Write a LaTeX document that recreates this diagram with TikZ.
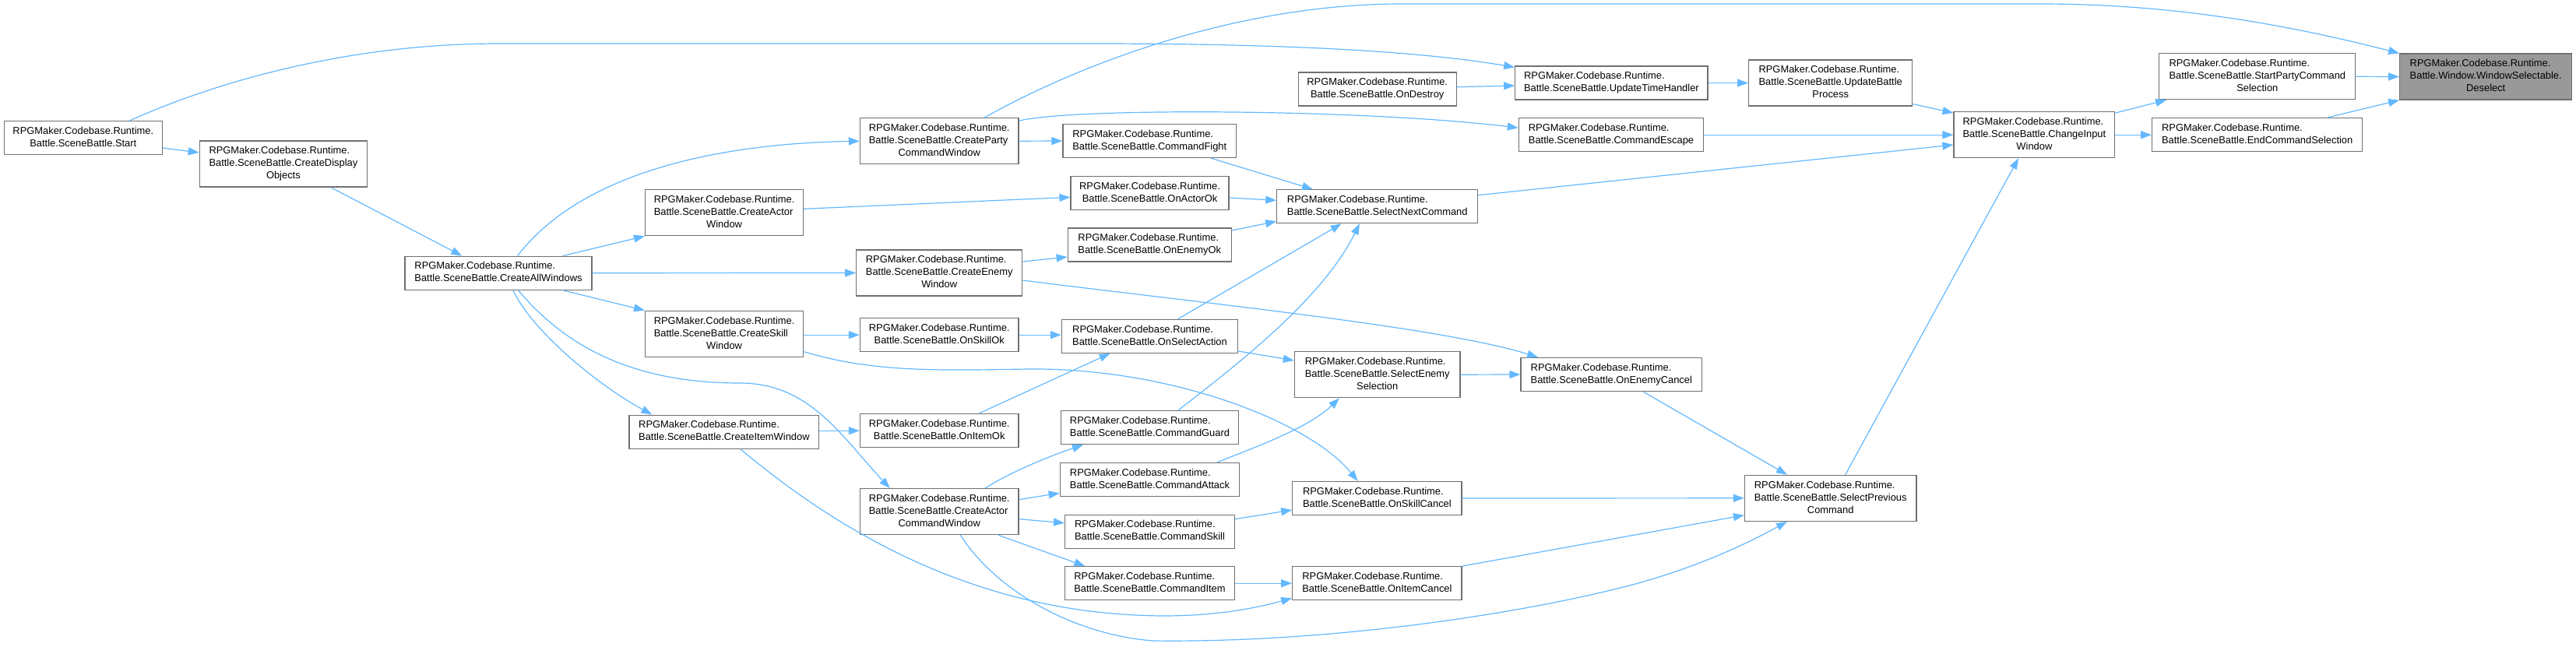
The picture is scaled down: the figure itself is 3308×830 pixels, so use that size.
\documentclass[tikz,border=0pt]{standalone}
\usepackage{fontspec}
\setmainfont{Liberation Sans}
\usetikzlibrary{arrows.meta}
\definecolor{edgec}{HTML}{63B8FF}
\definecolor{boxc}{HTML}{707070}
\definecolor{hilite}{HTML}{999999}
\newcommand{\nodetext}[2]{\begin{tabular}{@{}l@{}}#1\\\multicolumn{1}{@{}c@{}}{#2}\end{tabular}}
\tikzset{
 fn/.style={draw=boxc, line width=1.2pt, fill=white, inner sep=0pt, font=\fontsize{12.9pt}{16pt}\selectfont, minimum height=43pt},
 fn3/.style={fn, minimum height=59pt},
 hl/.style={fill=hilite},
 edge/.style={draw=edgec, line width=1.2pt, -{Triangle[length=14pt,width=10pt]}},
}
\begin{document}
\begin{tikzpicture}[x=1pt,y=-1pt]
\useasboundingbox (0,0) rectangle (3308,830);
% nodes
\node[fn, minimum width=203pt] (start) at (106.8,177.3) {\nodetext{RPGMaker.Codebase.Runtime.}{Battle.SceneBattle.Start}};
\node[fn3, minimum width=215.2pt] (cdo) at (363.9,210.5) {\nodetext{RPGMaker.Codebase.Runtime.\\Battle.SceneBattle.CreateDisplay}{Objects}};
\node[fn, minimum width=240pt] (caw) at (640,350.7) {\nodetext{RPGMaker.Codebase.Runtime.}{Battle.SceneBattle.CreateAllWindows}};
\node[fn3, minimum width=203.6pt] (cpw) at (1206.2,181.2) {\nodetext{RPGMaker.Codebase.Runtime.\\Battle.SceneBattle.CreateParty}{CommandWindow}};
\node[fn, minimum width=222.5pt] (cfight) at (1476.3,181) {\nodetext{RPGMaker.Codebase.Runtime.}{Battle.SceneBattle.CommandFight}};
\node[fn3, minimum width=203pt] (cactw) at (930.1,273.2) {\nodetext{RPGMaker.Codebase.Runtime.\\Battle.SceneBattle.CreateActor}{Window}};
\node[fn, minimum width=203pt] (onactorok) at (1476.5,247.8) {\nodetext{RPGMaker.Codebase.Runtime.}{Battle.SceneBattle.OnActorOk}};
\node[fn, minimum width=210pt] (onenemyok) at (1476.2,314.5) {\nodetext{RPGMaker.Codebase.Runtime.}{Battle.SceneBattle.OnEnemyOk}};
\node[fn3, minimum width=213pt] (cew) at (1206.2,350.5) {\nodetext{RPGMaker.Codebase.Runtime.\\Battle.SceneBattle.CreateEnemy}{Window}};
\node[fn3, minimum width=203pt] (csw) at (930.1,428.8) {\nodetext{RPGMaker.Codebase.Runtime.\\Battle.SceneBattle.CreateSkill}{Window}};
\node[fn, minimum width=203.6pt] (onskillok) at (1206.2,430.2) {\nodetext{RPGMaker.Codebase.Runtime.}{Battle.SceneBattle.OnSkillOk}};
\node[fn, minimum width=226.2pt] (onselectaction) at (1476.5,431.8) {\nodetext{RPGMaker.Codebase.Runtime.}{Battle.SceneBattle.OnSelectAction}};
\node[fn, minimum width=243.7pt] (ciw) at (929.9,554.7) {\nodetext{RPGMaker.Codebase.Runtime.}{Battle.SceneBattle.CreateItemWindow}};
\node[fn, minimum width=203.6pt] (onitemok) at (1206.2,553.2) {\nodetext{RPGMaker.Codebase.Runtime.}{Battle.SceneBattle.OnItemOk}};
\node[fn, minimum width=228.4pt] (cguard) at (1476.5,549.2) {\nodetext{RPGMaker.Codebase.Runtime.}{Battle.SceneBattle.CommandGuard}};
\node[fn, minimum width=230.5pt] (cattack) at (1476.5,616) {\nodetext{RPGMaker.Codebase.Runtime.}{Battle.SceneBattle.CommandAttack}};
\node[fn3, minimum width=203.6pt] (cacw) at (1206.2,657.2) {\nodetext{RPGMaker.Codebase.Runtime.\\Battle.SceneBattle.CreateActor}{CommandWindow}};
\node[fn, minimum width=217.8pt] (cskill) at (1476.5,682.7) {\nodetext{RPGMaker.Codebase.Runtime.}{Battle.SceneBattle.CommandSkill}};
\node[fn, minimum width=217.8pt] (citem) at (1476.5,749.2) {\nodetext{RPGMaker.Codebase.Runtime.}{Battle.SceneBattle.CommandItem}};
\node[fn, minimum width=203pt] (ondestroy) at (1768.7,114.5) {\nodetext{RPGMaker.Codebase.Runtime.}{Battle.SceneBattle.OnDestroy}};
\node[fn, minimum width=257.9pt] (snc) at (1768.75,265.2) {\nodetext{RPGMaker.Codebase.Runtime.}{Battle.SceneBattle.SelectNextCommand}};
\node[fn3, minimum width=212.6pt] (ses) at (1768.7,481.2) {\nodetext{RPGMaker.Codebase.Runtime.\\Battle.SceneBattle.SelectEnemy}{Selection}};
\node[fn, minimum width=217.2pt] (onskillcancel) at (1768.4,640) {\nodetext{RPGMaker.Codebase.Runtime.}{Battle.SceneBattle.OnSkillCancel}};
\node[fn, minimum width=217.2pt] (onitemcancel) at (1768.4,749.2) {\nodetext{RPGMaker.Codebase.Runtime.}{Battle.SceneBattle.OnItemCancel}};
\node[fn, minimum width=247.3pt] (uth) at (2069.4,106.5) {\nodetext{RPGMaker.Codebase.Runtime.}{Battle.SceneBattle.UpdateTimeHandler}};
\node[fn, minimum width=237.3pt] (cescape) at (2069,173.2) {\nodetext{RPGMaker.Codebase.Runtime.}{Battle.SceneBattle.CommandEscape}};
\node[fn, minimum width=232.6pt] (onenemycancel) at (2069.3,481) {\nodetext{RPGMaker.Codebase.Runtime.}{Battle.SceneBattle.OnEnemyCancel}};
\node[fn3, minimum width=210pt] (ubp) at (2350.7,106.5) {\nodetext{RPGMaker.Codebase.Runtime.\\Battle.SceneBattle.UpdateBattle}{Process}};
\node[fn3, minimum width=220.5pt] (spc) at (2350.7,639.8) {\nodetext{RPGMaker.Codebase.Runtime.\\Battle.SceneBattle.SelectPrevious}{Command}};
\node[fn3, minimum width=206.7pt] (chg) at (2612.4,173.2) {\nodetext{RPGMaker.Codebase.Runtime.\\Battle.SceneBattle.ChangeInput}{Window}};
\node[fn3, minimum width=252.1pt] (spcs) at (2898.8,98.3) {\nodetext{RPGMaker.Codebase.Runtime.\\Battle.SceneBattle.StartPartyCommand}{Selection}};
\node[fn, minimum width=270pt] (ecs) at (2898.7,173.2) {\nodetext{RPGMaker.Codebase.Runtime.}{Battle.SceneBattle.EndCommandSelection}};
\node[fn3, hl, minimum width=221pt] (desel) at (3192.2,98.5) {\nodetext{RPGMaker.Codebase.Runtime.\\Battle.Window.WindowSelectable.}{Deselect}};
% edges
\draw[edge] (spcs.east) -- (desel.west);
\draw[edge] ([xshift=89.6pt]ecs.north) -- (desel.south west);
\draw[edge] ([xshift=57.8pt]cpw.north) .. controls (1400,75) and (1600,5) .. (1800,5) -- (2620,5) .. controls (2800,5) and (2950,35) .. (desel.north west);
\draw[edge] ([yshift=-2pt]chg.north east) -- ([xshift=10pt]spcs.south west);
\draw[edge] (chg.east) -- (ecs.west);
\draw[edge] ([yshift=3pt]ubp.south east) -- ([yshift=-2pt]chg.north west);
\draw[edge] (cescape.east) -- (chg.west);
\draw[edge] ([yshift=14.5pt]snc.east) -- ([yshift=-12.8pt]chg.west);
\draw[edge] ([xshift=19pt]spc.north) -- ([xshift=-20.4pt]chg.south);
\draw[edge] (uth.east) -- (ubp.west);
\draw[edge] ([yshift=2.8pt]ondestroy.east) -- ([yshift=-3.5pt]uth.west);
\draw[edge] ([xshift=59.2pt]start.north) .. controls (300,95) and (470,56) .. (640,56) -- (1400,56) .. controls (1600,56) and (1800,62) .. ([yshift=-2pt]uth.north west);
\draw[edge] ([yshift=-4pt]cpw.north east) .. controls (1380,138) and (1750,140) .. ([yshift=9pt]cescape.west);
\draw[edge] (cpw.east) -- (cfight.west);
\draw[edge] ([xshift=78.5pt]cfight.south) -- ([xshift=-82.75pt]snc.north);
\draw[edge] ([yshift=-6.2pt]onactorok.east) -- ([yshift=7.9pt]snc.west);
\draw[edge] ([yshift=18.5pt]onenemyok.east) -- ([yshift=3pt]snc.south west);
\draw[edge] ([xshift=36.2pt]onselectaction.north) -- ([xshift=-46pt]snc.south);
\draw[edge] ([xshift=36.2pt]cguard.north) .. controls (1600,460) and (1700,380) .. ([xshift=-22.8pt]snc.south);
\draw[edge] ([yshift=4.9pt]cactw.east) -- ([yshift=-5.5pt]onactorok.west);
\draw[edge] ([yshift=14.5pt]cew.east) -- ([yshift=-15.5pt]onenemyok.west);
\draw[edge] ([yshift=-9.5pt]cew.east) .. controls (1550,390) and (1850,420) .. ([xshift=22.7pt]onenemycancel.north west);
\draw[edge] ([xshift=24.6pt]caw.north) .. controls (740,230) and (900,185) .. (cpw.west);
\draw[edge] ([xshift=82.6pt]caw.north) -- (cactw.south west);
\draw[edge] (caw.east) -- (cew.west);
\draw[edge] ([xshift=82.6pt]caw.south) -- (csw.north west);
\draw[edge] ([xshift=19pt]caw.south) .. controls (680,420) and (760,490) .. ([xshift=30pt]ciw.north west);
\draw[edge] ([xshift=25.6pt]caw.south) .. controls (730,450) and (820,492) .. (950,492) .. controls (1040,492) and (1080,560) .. ([xshift=39pt]cacw.north west);
\draw[edge] ([xshift=60.7pt]cdo.south) -- ([xshift=-46.6pt]caw.north);
\draw[edge] ([yshift=-12.7pt]start.east) -- ([yshift=14.5pt]cdo.west);
\draw[edge] (onskillok.west -| csw.east) -- (onskillok.west);
\draw[edge] ([yshift=-22.9pt]csw.east) .. controls (1120,478) and (1200,476) .. (1320,474) .. controls (1500,472) and (1680,540) .. ([xshift=-24.7pt]onskillcancel.north);
\draw[edge] (onskillok.east) -- (onskillok.east -| onselectaction.west);
\draw[edge] ([xshift=50.6pt]onitemok.north) -- ([xshift=-50.9pt]onselectaction.south);
\draw[edge] (onitemok.west -| ciw.east) -- (onitemok.west);
\draw[edge] ([xshift=21pt]ciw.south) .. controls (1050,660) and (1200,760) .. (1400,785) .. controls (1500,797) and (1580,790) .. ([yshift=3pt]onitemcancel.south west);
\draw[edge] ([xshift=58.6pt]cacw.north) .. controls (1300,605) and (1350,585) .. ([xshift=-85.5pt]cguard.south);
\draw[edge] ([yshift=15.5pt]cacw.east) -- ([yshift=-17.3pt]cattack.west);
\draw[edge] ([yshift=-9.5pt]cacw.east) -- ([yshift=11pt]cskill.west);
\draw[edge] ([xshift=75.8pt]cacw.south) -- ([xshift=26.4pt]citem.north west);
\draw[edge] ([xshift=86.2pt]cattack.north) .. controls (1610,575) and (1680,550) .. ([xshift=-48.7pt]ses.south);
\draw[edge] ([yshift=16pt]cskill.east) -- ([yshift=-15pt]onskillcancel.west);
\draw[edge] (citem.east) -- (onitemcancel.west);
\draw[edge] ([yshift=-19.2pt]onselectaction.east) -- ([yshift=18.2pt]ses.west);
\draw[edge] (ses.east) -- (onenemycancel.west);
\draw[edge] ([xshift=40.7pt]onenemycancel.south) -- ([xshift=-55.7pt]spc.north);
\draw[edge] (onskillcancel.east) -- (spc.west);
\draw[edge] (onitemcancel.north east) -- ([yshift=-21.9pt]spc.west);
\draw[edge] ([xshift=27.1pt]cacw.south) .. controls (1280,760) and (1380,815) .. (1480,823) .. controls (1700,826) and (1950,790) .. (2100,750) .. controls (2180,728) and (2240,700) .. ([xshift=-55.7pt]spc.south);
\end{tikzpicture}
\end{document}
